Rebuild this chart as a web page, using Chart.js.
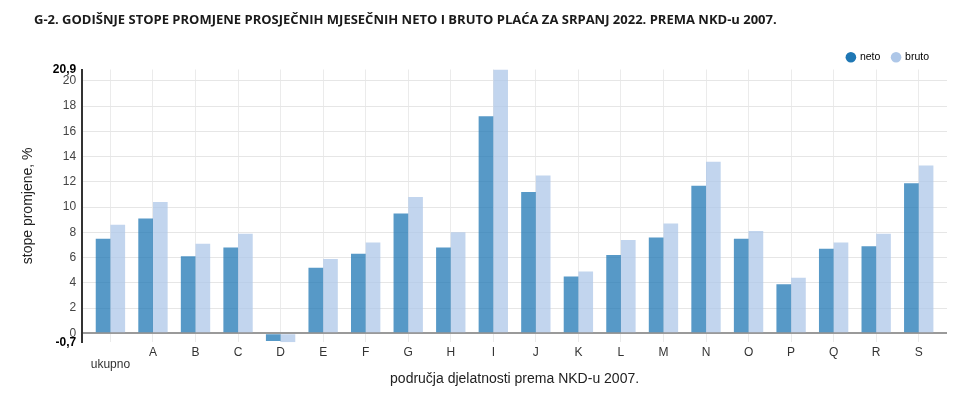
<!DOCTYPE html>
<html>
<head>
<meta charset="utf-8">
<script src="https://cdn.jsdelivr.net/npm/chart.js@4/dist/chart.umd.min.js"></script>
<style>
body { margin: 0; background: #fff; }
#wrap { position: relative; width: 979px; height: 397px; }
#title { position: absolute; left: 34px; top: 10px; font: bold 13px "Open Sans"; color: #1a1a1a; white-space: nowrap; }
</style>
</head>
<body>
<div id="wrap">
<div id="title">G-2. GODIŠNJE STOPE PROMJENE PROSJEČNIH MJESEČNIH NETO I BRUTO PLAĆA ZA SRPANJ 2022. PREMA NKD-u 2007.</div>
<canvas id="chart"></canvas>
</div>
<script>
var categories = [["", "ukupno"], "A", "B", "C", "D", "E", "F", "G", "H", "I", "J", "K", "L", "M", "N", "O", "P", "Q", "R", "S"];
var neto  = [7.5, 9.1, 6.1, 6.8, -0.6, 5.2, 6.3, 9.5, 6.8, 17.2, 11.2, 4.5, 6.2, 7.6, 11.7, 7.5, 3.9, 6.7, 6.9, 11.9];
var bruto = [8.6, 10.4, 7.1, 7.9, -0.7, 5.9, 7.2, 10.8, 8.0, 20.9, 12.5, 4.9, 7.4, 8.7, 13.6, 8.1, 4.4, 7.2, 7.9, 13.3];
var yMin = -0.7;
var yMax = 20.9;
var yTicks = [-0.7, 0, 2, 4, 6, 8, 10, 12, 14, 16, 18, 20, 20.9];

var netoColor = "31,119,180";
var brutoColor = "174,199,232";
var xPad = 7;        // extra room at both ends of the x axis, px
var legendShift = 6; // legend sits a bit in from the right edge of the plot
var legendDrop = 3;  // and a bit lower than its own box

function tickValue(c){
    return c && c.tick ? c.tick.value : null;
}

function isEnd(v){
    return v === yMin || v === yMax;
}

// widen the category scale a little so the first and last groups sit off the axis
var layoutPlugin = {
    id: "layoutTweaks",
    afterLayout: function(chart){
        let s = chart.scales.x;
        let n = s.getLabels().length;
        let w = s.width;
        s._valueRange = n * w / (w - 2 * xPad);
        s._startValue = -0.5 - xPad / w * s._valueRange;
        chart.legend.right -= legendShift;
        chart.legend.top += legendDrop;
    }
};

Chart.defaults.font.family = "'Liberation Sans', Arial, sans-serif";
Chart.defaults.font.size = 12;
Chart.defaults.color = "#444";

var ctx = document.getElementById("chart");
var chart = new Chart(ctx, {
    type: "bar",
    data: {
        labels: categories,
        datasets: [
            { label: "neto", data: neto, backgroundColor: "rgba(" + netoColor + ",0.75)" },
            { label: "bruto", data: bruto, backgroundColor: "rgba(" + brutoColor + ",0.75)" }
        ]
    },
    options: {
        responsive: true,
        maintainAspectRatio: false,
        animation: false,
        categoryPercentage: 0.69,
        barPercentage: 1.0,
        layout: { padding: { top: 37, right: 32, bottom: 9, left: 20 } },
        plugins: {
            tooltip: { enabled: false },
            legend: {
                position: "top",
                align: "end",
                labels: {
                    usePointStyle: true,
                    pointStyle: "circle",
                    boxWidth: 7.5,
                    boxHeight: 7.5,
                    padding: 12,
                    color: "#333",
                    font: { size: 10.5 },
                    generateLabels: function(chart){
                        return chart.data.datasets.map(function(ds, i){
                            let c = i === 0 ? netoColor : brutoColor;
                            return { text: ds.label, fillStyle: "rgb(" + c + ")", strokeStyle: "rgb(" + c + ")", lineWidth: 0, pointStyle: "circle", datasetIndex: i };
                        });
                    }
                }
            }
        },
        scales: {
            x: {
                grid: { color: "#ebebeb", drawTicks: false, offset: false },
                border: { display: false },
                ticks: { color: "#333", padding: 4, maxRotation: 0, autoSkip: false, font: { size: 12, lineHeight: 1 } },
                title: { display: true, text: "područja djelatnosti prema NKD-u 2007.", color: "#222", font: { size: 14 }, padding: { top: -3, bottom: 0 } }
            },
            y: {
                min: yMin,
                max: yMax,
                afterBuildTicks: function(scale){
                    scale.ticks = yTicks.map(function(v){ return { value: v }; });
                },
                grid: {
                    drawTicks: false,
                    color: function(c){
                        let v = tickValue(c);
                        if (isEnd(v)) return "rgba(0,0,0,0)";
                        if (v === 0) return "#9a9a9a";
                        return "#e6e6e6";
                    },
                    lineWidth: function(c){
                        return tickValue(c) === 0 ? 2 : 1;
                    }
                },
                border: { display: true, color: "#333", width: 2 },
                ticks: {
                    padding: 6,
                    color: function(c){ return isEnd(tickValue(c)) ? "#000" : "#444"; },
                    font: function(c){ return isEnd(tickValue(c)) ? { size: 12, weight: "bold" } : { size: 12 }; },
                    callback: function(v){ return String(v).replace(".", ","); }
                },
                title: { display: true, text: "stope promjene, %", color: "#222", font: { size: 14 }, padding: { top: 0, bottom: 10 } }
            }
        }
    },
    plugins: [layoutPlugin]
});
</script>
</body>
</html>
